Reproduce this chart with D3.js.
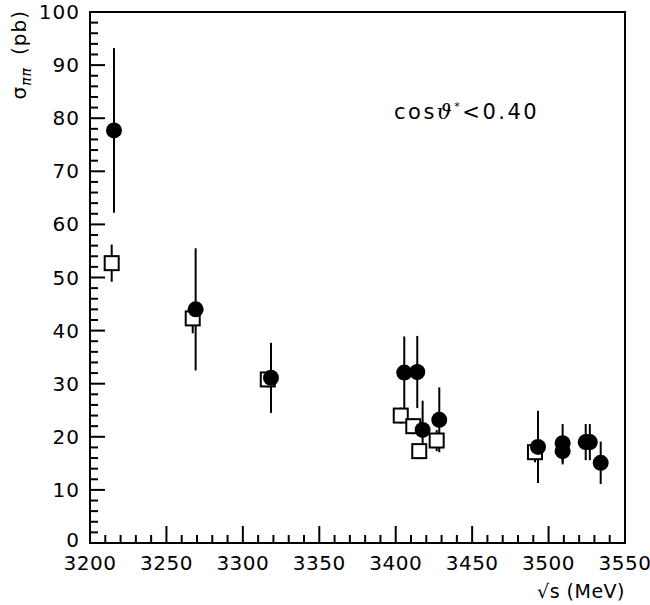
<!DOCTYPE html>
<html>
<head>
<meta charset="utf-8">
<script src="https://cdn.jsdelivr.net/npm/d3@7"></script>
<style>
  body { margin: 0; background: #fff; }
  text { font-family: "DejaVu Sans", sans-serif; fill: #000; }
</style>
</head>
<body>
<div id="chart"></div>
<script>
// filled circles
var circE = [3215.7, 3269.1, 3318.4, 3405.6, 3414.1, 3417.6, 3428.5, 3493.1, 3509.2, 3509.2, 3524.3, 3527.0, 3534.1];
var circS = [77.7, 44.0, 31.1, 32.1, 32.2, 21.3, 23.2, 18.1, 18.8, 17.3, 19.0, 19.0, 15.1];
var circErr = [15.5, 11.5, 6.6, 6.8, 6.8, 5.5, 6.1, 6.8, 3.6, 2.5, 3.4, 3.4, 4.0];
// open squares
var sqE = [3214.2, 3267.2, 3316.3, 3403.3, 3411.5, 3415.4, 3426.8, 3491.1];
var sqS = [52.7, 42.3, 30.8, 24.0, 22.0, 17.3, 19.3, 17.1];
var sqErr = [3.5, 2.8, 1.5, 1.5, 1.5, 1.3, 2.0, 1.9];

var xTicks = [3200, 3250, 3300, 3350, 3400, 3450, 3500, 3550];
var yTicks = [0, 10, 20, 30, 40, 50, 60, 70, 80, 90, 100];

var svgWidth = 650, svgHeight = 605;
var margin = {top: 12, right: 25, bottom: 62, left: 90};
var width = svgWidth - margin.left - margin.right;
var height = svgHeight - margin.top - margin.bottom;

var svg = d3.select("#chart").append("svg")
    .attr("width", svgWidth)
    .attr("height", svgHeight);

var g = svg.append("g")
    .attr("transform", `translate(${margin.left}, ${margin.top})`);

var x = d3.scaleLinear().domain([3200, 3550]).range([0, width]);
var y = d3.scaleLinear().domain([0, 100]).range([height, 0]);

// ticks inside the frame
var xMinor = d3.range(3200, 3551, 10);
g.selectAll(".xt").data(xMinor).enter().append("line")
    .attr("x1", d => x(d)).attr("x2", d => x(d))
    .attr("y1", height).attr("y2", d => height - (d % 50 === 0 ? 17 : 8))
    .attr("stroke", "#000").attr("stroke-width", 2);

var yMinor = d3.range(0, 101, 2);
g.selectAll(".yt").data(yMinor).enter().append("line")
    .attr("x1", 0).attr("x2", d => (d % 10 === 0 ? 15 : 8))
    .attr("y1", d => y(d)).attr("y2", d => y(d))
    .attr("stroke", "#000").attr("stroke-width", 2);

g.append("rect")
    .attr("width", width).attr("height", height)
    .attr("fill", "none").attr("stroke", "#000").attr("stroke-width", 2);

// tick labels
g.selectAll(".xl").data(xTicks).enter().append("text")
    .attr("x", d => x(d)).attr("y", height + 27)
    .attr("text-anchor", "middle").attr("font-size", 20)
    .attr("letter-spacing", 0.5)
    .text(d => d);

g.selectAll(".yl").data(yTicks).enter().append("text")
    .attr("x", -10).attr("y", d => y(d) + (d === 0 ? 4 : 7))
    .attr("text-anchor", "end").attr("font-size", 20)
    .attr("letter-spacing", 1)
    .text(d => d);

// error bars
function bars(E, S, Err) {
    g.selectAll(null).data(E).enter().append("line")
        .attr("x1", (d, i) => x(d)).attr("x2", (d, i) => x(d))
        .attr("y1", (d, i) => y(S[i] - Err[i]))
        .attr("y2", (d, i) => y(S[i] + Err[i]))
        .attr("stroke", "#000").attr("stroke-width", 2);
}
bars(sqE, sqS, sqErr);
bars(circE, circS, circErr);

var sq = 14;
g.selectAll(".sq").data(sqE).enter().append("rect")
    .attr("x", d => x(d) - sq / 2)
    .attr("y", (d, i) => y(sqS[i]) - sq / 2)
    .attr("width", sq).attr("height", sq)
    .attr("fill", "#fff").attr("stroke", "#000").attr("stroke-width", 2);

g.selectAll(".ci").data(circE).enter().append("circle")
    .attr("cx", d => x(d))
    .attr("cy", (d, i) => y(circS[i]))
    .attr("r", 8)
    .attr("fill", "#000");

// labels
svg.append("text")
    .attr("x", 625).attr("y", 598)
    .attr("text-anchor", "end").attr("font-size", 19)
    .attr("letter-spacing", 0.5)
    .text("\u221As (MeV)");

var yl = svg.append("text")
    .attr("transform", "translate(26, 10) rotate(-90)")
    .attr("text-anchor", "end").attr("font-size", 20)
    .attr("letter-spacing", 1);
yl.append("tspan").text("\u03C3");
yl.append("tspan").attr("font-size", 14).attr("dy", 5).attr("font-style", "italic").text("\u03C0\u03C0");
yl.append("tspan").attr("dy", -5).attr("dx", 12).text("(pb)");

var ann = svg.append("text")
    .attr("x", 394).attr("y", 119)
    .attr("font-size", 21).attr("letter-spacing", 2.5);
ann.append("tspan").text("cos");
ann.append("tspan").attr("font-family", "DejaVu Serif").attr("font-style", "italic").text("\u03D1");
ann.append("tspan").attr("font-size", 11).attr("dy", -9).text("*");
ann.append("tspan").attr("dy", 9).text("<0.40");
</script>
</body>
</html>
